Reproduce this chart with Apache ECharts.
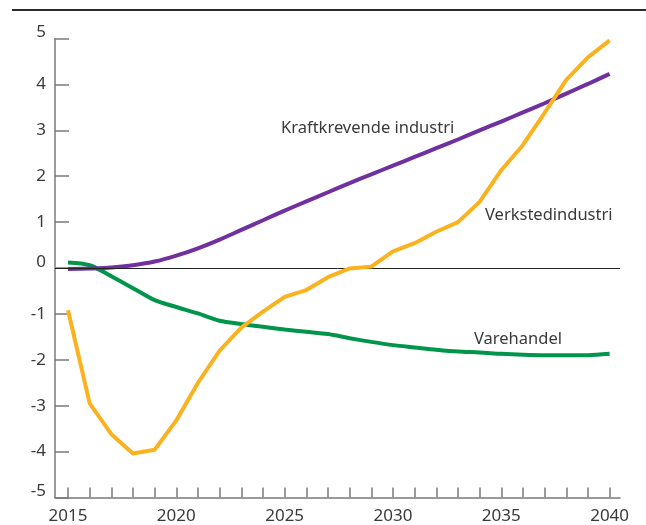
<!DOCTYPE html>
<html>
<head>
<meta charset="utf-8">
<script src="https://cdn.jsdelivr.net/npm/echarts@6/dist/echarts.min.js"></script>
<style>
  html, body { margin: 0; padding: 0; background: #fff; }
  #chart { width: 646px; height: 525px; }
</style>
</head>
<body>
<div id="chart"></div>
<script>
var years = [];
for (var y = 2015; y <= 2040; y++) years.push(y);
var xLabels = [2015, 2020, 2025, 2030, 2035, 2040];

var kraftkrevende = [-0.02, -0.01, 0.01, 0.06, 0.14, 0.27, 0.43, 0.62, 0.83, 1.04, 1.25, 1.45, 1.65,
  1.85, 2.04, 2.23, 2.42, 2.61, 2.8, 3.0, 3.19, 3.39, 3.59, 3.8, 4.01, 4.23];
var verksted = [-0.92, -2.95, -3.62, -4.04, -3.96, -3.32, -2.5, -1.8, -1.3, -0.95, -0.63, -0.48, -0.2,
  -0.01, 0.03, 0.36, 0.54, 0.79, 1.0, 1.44, 2.13, 2.68, 3.38, 4.1, 4.59, 4.96];
var varehandel = [0.12, 0.06, -0.18, -0.44, -0.7, -0.85, -0.99, -1.15, -1.22, -1.28, -1.34, -1.39, -1.44,
  -1.53, -1.61, -1.68, -1.73, -1.78, -1.82, -1.84, -1.87, -1.89, -1.9, -1.9, -1.9, -1.87];

function pairs(vals) {
  return years.map(function (yr, i) { return [yr, vals[i]]; });
}

var chart = echarts.init(document.getElementById("chart"));
var textColor = "#3a3a3a";
var axisColor = "#7a7a7a";

var option = {
  animation: false,
  grid: { left: 55, right: 26, top: 38.5, bottom: 27.5 },
  xAxis: {
    type: "value",
    min: 2014.4,
    max: 2040.48,
    axisLine: { show: true, onZero: false, lineStyle: { color: axisColor, width: 1.5 } },
    axisTick: { show: true, inside: true, length: 10, customValues: years, lineStyle: { color: axisColor, width: 1.5 } },
    axisLabel: {
      customValues: xLabels, color: textColor, fontSize: 17, fontFamily: "Noto Sans", margin: 10,
      formatter: function (v) { return String(v); }
    },
    splitLine: { show: false }
  },
  yAxis: {
    type: "value",
    min: -5,
    max: 5,
    interval: 1,
    axisLine: { show: true, lineStyle: { color: axisColor, width: 1.5 } },
    axisTick: { show: true, inside: true, length: 14, lineStyle: { color: axisColor, width: 1.5 } },
    axisLabel: {
      color: textColor, fontSize: 17, fontFamily: "Noto Sans", margin: 9,
      formatter: function (v) {
        // 5, 0 and -5 sit a little above their ticks in the original
        if (v === 5 || v === 0 || v === -5) return "{up|" + v + "}";
        return String(v);
      },
      rich: {
        up: { color: textColor, fontSize: 17, fontFamily: "Noto Sans", padding: [0, 0, 12, 0] }
      }
    },
    splitLine: { show: false }
  },
  series: [
    {
      name: "Varehandel",
      type: "line",
      data: pairs(varehandel),
      smooth: 0.3,
      showSymbol: false,
      lineStyle: { color: "#00954a", width: 4 },
      markLine: {
        silent: true,
        symbol: "none",
        label: { show: false },
        lineStyle: { color: "#222", width: 1, type: "solid" },
        data: [{ yAxis: 0 }]
      },
      z: 3
    },
    {
      name: "Kraftkrevende industri",
      type: "line",
      data: pairs(kraftkrevende),
      smooth: 0.3,
      showSymbol: false,
      lineStyle: { color: "#7030a0", width: 4 },
      z: 4
    },
    {
      name: "Verkstedindustri",
      type: "line",
      data: pairs(verksted),
      showSymbol: false,
      lineStyle: { color: "#fbb21f", width: 4, join: "round" },
      z: 5
    }
  ],
  graphic: [
    { type: "line", shape: { x1: 12, y1: 10, x2: 646, y2: 10 }, style: { stroke: "#2a2a2a", lineWidth: 2 } },
    { type: "text", left: 281, top: 120, style: { text: "Kraftkrevende industri", fill: textColor, font: "16.5px 'Noto Sans'" } },
    { type: "text", left: 485, top: 207, style: { text: "Verkstedindustri", fill: textColor, font: "16.5px 'Noto Sans'" } },
    { type: "text", left: 474, top: 331, style: { text: "Varehandel", fill: textColor, font: "16.5px 'Noto Sans'" } }
  ]
};

chart.setOption(option);
window.addEventListener("resize", function () {
  chart.resize();
});
</script>
</body>
</html>
